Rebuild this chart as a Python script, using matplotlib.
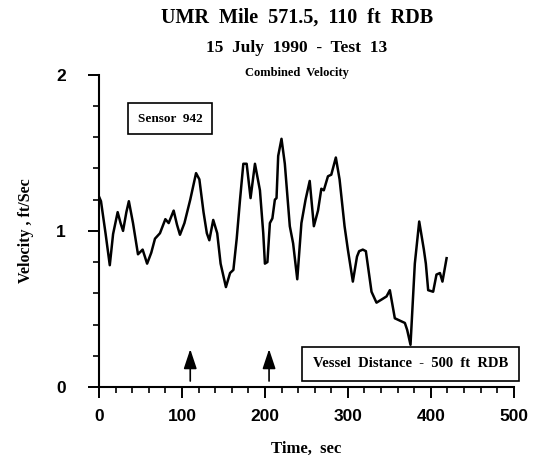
import numpy as np
import matplotlib
matplotlib.use("Agg")
import matplotlib.pyplot as plt
from matplotlib.ticker import MultipleLocator

# values
time_s = [0, 2.4, 8, 13, 17, 22.5, 26, 29, 33, 36, 41, 47, 52.6, 55, 58, 63, 67.5,
          73.5, 80, 84, 90, 94, 97.6, 103, 110, 117, 121, 126, 130, 133, 137.7,
          142.5, 146.6, 153, 158, 162, 166, 170, 174, 178, 182.7, 188, 194, 198,
          200, 203, 206, 209, 212, 214, 216, 220, 224, 230, 234, 239, 244, 249,
          254, 259, 264, 268, 271, 276, 280, 285.5, 290, 296, 300, 306, 311,
          313.6, 318, 321.7, 328.5, 334.5, 340.6, 346.6, 350.6, 356.6, 360.6,
          368.7, 371.5, 375.5, 380.7, 386, 391.6, 394, 396.8, 402.8, 406.8, 411,
          414, 419]
velocity = [1.22, 1.19, 0.98, 0.78, 0.98, 1.12, 1.05, 1.0, 1.12, 1.19, 1.05, 0.85,
            0.88, 0.84, 0.79, 0.86, 0.95, 0.985, 1.075, 1.05, 1.13, 1.04, 0.975,
            1.05, 1.2, 1.37, 1.33, 1.12, 0.985, 0.94, 1.07, 0.985, 0.79, 0.64,
            0.73, 0.75, 0.95, 1.2, 1.43, 1.43, 1.21, 1.43, 1.26, 0.985, 0.79,
            0.80, 1.05, 1.08, 1.2, 1.21, 1.48, 1.59, 1.43, 1.03, 0.92, 0.69,
            1.05, 1.2, 1.32, 1.03, 1.13, 1.27, 1.26, 1.35, 1.36, 1.47, 1.33,
            1.03, 0.88, 0.675, 0.835, 0.87, 0.88, 0.87, 0.61, 0.54, 0.56, 0.58,
            0.62, 0.44, 0.43, 0.41, 0.365, 0.27, 0.79, 1.06, 0.88, 0.79, 0.62,
            0.61, 0.72, 0.73, 0.675, 0.825]
arrow_times = [110, 205]
x_ticks = [0, 100, 200, 300, 400, 500]
y_ticks = [0, 1, 2]

serif = ["Liberation Serif", "DejaVu Serif"]
sans = ["Liberation Sans", "DejaVu Sans"]

fig = plt.figure(figsize=(5.38, 4.59), dpi=100)
ax = fig.add_axes([0.184, 0.157, 0.771, 0.68])

ax.plot(time_s, velocity, color="black", linewidth=1.8, zorder=3)

for t in arrow_times:
    ax.annotate("", xy=(t, 0.26), xytext=(t, 0.02),
                arrowprops=dict(arrowstyle="-|>,head_width=0.4,head_length=1.2",
                                color="black", lw=1.2))

ax.text(85.5, 1.72, "Sensor  942", family=serif, weight="bold", fontsize=9.5,
        ha="center", va="center", zorder=1,
        bbox=dict(boxstyle="square,pad=0.75", fc="white", ec="black", lw=1.2))
ax.text(376, 0.147, "Vessel  Distance  -  500  ft  RDB", family=serif,
        weight="bold", fontsize=10.5, ha="center", va="center", clip_on=False,
        zorder=1,
        bbox=dict(boxstyle="square,pad=0.75", fc="white", ec="black", lw=1.2))

ax.set_xlim(0, 500)
ax.set_ylim(0, 2)
ax.set_xticks(x_ticks)
ax.set_yticks(y_ticks)
ax.xaxis.set_minor_locator(MultipleLocator(20))
ax.yaxis.set_minor_locator(MultipleLocator(0.2))
ax.tick_params(which="major", direction="out", length=8, width=1.4)
ax.tick_params(which="minor", direction="out", length=4, width=1.2)
ax.tick_params(axis="x", which="major", pad=8)
ax.tick_params(axis="y", which="major", pad=16)
for lab in ax.get_xticklabels() + ax.get_yticklabels():
    lab.set_family(sans)
    lab.set_weight("bold")
    lab.set_fontsize(12.5)

for s in ["top", "right"]:
    ax.spines[s].set_visible(False)
for s in ["left", "bottom"]:
    ax.spines[s].set_linewidth(1.5)

ax.set_xlabel("Time,  sec", family=serif, weight="bold", fontsize=12, labelpad=12)
ax.set_ylabel("Velocity , ft/Sec", family=serif, weight="bold", fontsize=11.5, labelpad=16)

fig.text(0.552, 0.962, "UMR  Mile  571.5,  110  ft  RDB", family=serif,
         weight="bold", fontsize=14.5, ha="center", va="center")
fig.text(0.552, 0.895, "15  July  1990  -  Test  13", family=serif,
         weight="bold", fontsize=12.5, ha="center", va="center")
fig.text(0.552, 0.842, "Combined  Velocity", family=serif,
         weight="bold", fontsize=9, ha="center", va="center")

fig.savefig("out.png", dpi=100)
